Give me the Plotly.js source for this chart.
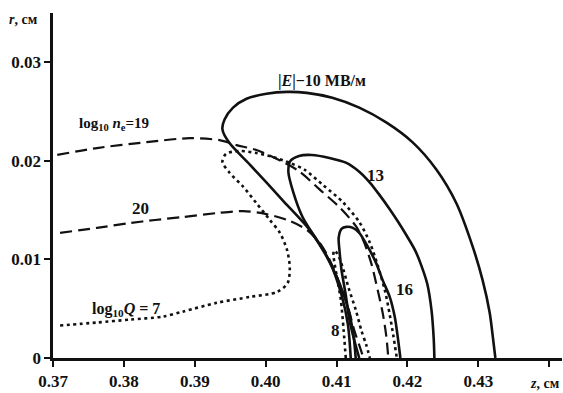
<!DOCTYPE html>
<html>
<head>
<meta charset="utf-8">
<script src="https://cdn.plot.ly/plotly-3.0.1.min.js"></script>
<style>html,body{margin:0;padding:0;background:#fff;}#chart{width:563px;height:393px;}</style>
</head>
<body>
<div id="chart"></div>
<script>
// |E| contours (MV/m): z and r in cm
const e10Z = [0.4120, 0.4116, 0.4107, 0.4090, 0.4062, 0.4024, 0.3978, 0.3949, 0.3939, 0.3942, 0.3954, 0.3973, 0.4001, 0.4030, 0.4058, 0.4094, 0.4132, 0.4170, 0.4207, 0.4241, 0.4269, 0.4292, 0.4306, 0.4316, 0.4321, 0.4324];
const e10R = [0, 0.0034, 0.0064, 0.0098, 0.0130, 0.0160, 0.0196, 0.0218, 0.0232, 0.0242, 0.0254, 0.0263, 0.0268, 0.0270, 0.0269, 0.0264, 0.0254, 0.0239, 0.0219, 0.0191, 0.0157, 0.0113, 0.0079, 0.0046, 0.0018, 0];
const e13Z = [0.4127, 0.4123, 0.4114, 0.4101, 0.4086, 0.4069, 0.4052, 0.4039, 0.4032, 0.4035, 0.4047, 0.4065, 0.4090, 0.4114, 0.4132, 0.4147, 0.4161, 0.4174, 0.4187, 0.4199, 0.4211, 0.4220, 0.4228, 0.4234, 0.4237, 0.4238];
const e13R = [0, 0.0028, 0.0056, 0.0081, 0.0103, 0.0123, 0.0143, 0.0168, 0.0189, 0.0200, 0.0205, 0.0206, 0.0203, 0.0198, 0.0189, 0.0178, 0.0165, 0.0152, 0.0138, 0.0124, 0.0109, 0.0093, 0.0075, 0.0048, 0.0020, 0];
const e16Z = [0.4132, 0.4125, 0.4118, 0.4113, 0.4107, 0.4104, 0.4103, 0.4107, 0.4114, 0.4123, 0.4132, 0.4144, 0.4156, 0.4165, 0.4175, 0.4182, 0.4186, 0.4190];
const e16R = [0, 0.0018, 0.0039, 0.0064, 0.0089, 0.0110, 0.0122, 0.0131, 0.0133, 0.0132, 0.0127, 0.0113, 0.0096, 0.0079, 0.0062, 0.0042, 0.0023, 0];
// log10 ne contours
const ne19Z = [0.3706, 0.3762, 0.3832, 0.3893, 0.3935, 0.3959, 0.3987, 0.4024, 0.4048, 0.4076, 0.4104, 0.4128, 0.4139, 0.4149, 0.4158, 0.4165, 0.4170, 0.4173];
const ne19R = [0.0206, 0.0213, 0.0219, 0.0223, 0.0221, 0.0216, 0.0211, 0.0199, 0.0189, 0.0171, 0.0153, 0.0133, 0.0117, 0.0096, 0.0069, 0.0046, 0.0023, 0];
const ne20Z = [0.3710, 0.3762, 0.3809, 0.3844, 0.3883, 0.3931, 0.3968, 0.4001, 0.4034, 0.4058, 0.4076, 0.4090, 0.4104, 0.4116, 0.4125, 0.4132, 0.4138];
const ne20R = [0.0127, 0.0132, 0.0137, 0.0140, 0.0143, 0.0147, 0.0149, 0.0146, 0.0139, 0.0130, 0.0117, 0.0100, 0.0076, 0.0052, 0.0028, 0.0013, 0];
// log10 Q contours
const q7Z = [0.3710, 0.3762, 0.3809, 0.3855, 0.3883, 0.3931, 0.3978, 0.4016, 0.4031, 0.4034, 0.4030, 0.4020, 0.4006, 0.3987, 0.3968, 0.3949, 0.3939, 0.3944, 0.3963, 0.3987, 0.4010, 0.4034, 0.4055, 0.4080, 0.4109, 0.4132, 0.4147, 0.4158, 0.4168, 0.4175, 0.4180, 0.4185];
const q7R = [0.0033, 0.0036, 0.0039, 0.0042, 0.0047, 0.0056, 0.0062, 0.0067, 0.0076, 0.0092, 0.0110, 0.0127, 0.0140, 0.0157, 0.0174, 0.0188, 0.0199, 0.0207, 0.0210, 0.0208, 0.0204, 0.0198, 0.0191, 0.0176, 0.0158, 0.0138, 0.0117, 0.0094, 0.0069, 0.0044, 0.0023, 0];
const q8Z = [0.4113, 0.4110, 0.4106, 0.4100, 0.4096, 0.4096, 0.4101, 0.4109, 0.4117, 0.4127, 0.4135, 0.4142, 0.4147];
const q8R = [0, 0.0028, 0.0059, 0.0084, 0.0102, 0.0109, 0.0106, 0.0091, 0.0071, 0.0049, 0.0028, 0.0013, 0];

const xTickVals = [0.37, 0.38, 0.39, 0.40, 0.41, 0.42, 0.43, 0.44];
const xTickText = ['0.37', '0.38', '0.39', '0.40', '0.41', '0.42', '0.43', ''];
const yTickVals = [0, 0.01, 0.02, 0.03];
const yTickText = ['0', '0.01', '0.02', '0.03'];

const INK = '#111';
const SOLID = {color: INK, width: 2.6, shape: 'spline', smoothing: 0.8};
const DASH = {color: INK, width: 2.2, dash: '12px,6px', shape: 'spline', smoothing: 0.8};
const DOT = {color: INK, width: 2.6, dash: '3px,3.5px', shape: 'spline', smoothing: 0.8};

function tr(x, y, line) { return {x: x, y: y, mode: 'lines', line: line, hoverinfo: 'skip', showlegend: false}; }

const data = [
  tr(q7Z, q7R, DOT), tr(q8Z, q8R, DOT),
  tr(ne19Z, ne19R, DASH), tr(ne20Z, ne20R, DASH),
  tr(e10Z, e10R, SOLID), tr(e13Z, e13R, SOLID), tr(e16Z, e16R, SOLID)
];

const F = 'Liberation Serif, Times New Roman, serif';
const lab = (x, y, text, size) => ({x: x, y: y, xref: 'x', yref: 'y', text: text, showarrow: false,
  font: {family: F, size: size || 16, color: INK, weight: 700}});

const layout = {
  width: 563, height: 393,
  margin: {l: 53, r: 1, t: 13, b: 35},
  paper_bgcolor: '#fff', plot_bgcolor: '#fff',
  xaxis: {range: [0.37, 0.4418], tickvals: xTickVals, ticktext: xTickText, ticks: 'outside', ticklen: 6, tickwidth: 2,
    tickcolor: INK, showline: true, linecolor: INK, linewidth: 2.6, showgrid: false, zeroline: false,
    tickfont: {family: F, size: 17, color: INK, weight: 700}},
  yaxis: {range: [0, 0.035], tickvals: yTickVals, ticktext: yTickText, ticks: 'outside', ticklen: 6, tickwidth: 2,
    tickcolor: INK, showline: true, linecolor: INK, linewidth: 2.6, showgrid: false, zeroline: false,
    tickfont: {family: F, size: 17, color: INK, weight: 700}},
  annotations: [
    lab(0.4080, 0.0281, '|<i>E</i>|−10 МВ/м', 16),
    lab(0.3786, 0.0237, 'log<sub>10</sub> <i>n</i><sub>e</sub>=19', 15),
    lab(0.3823, 0.0152, '20', 17),
    lab(0.3803, 0.0049, 'log<sub>10</sub><i>Q</i> = 7', 16),
    lab(0.4155, 0.0185, '13', 17),
    lab(0.4196, 0.0069, '16', 17),
    lab(0.4098, 0.0028, '8', 17),
    {xref: 'paper', yref: 'paper', x: -0.09, y: 0.98, xanchor: 'left', yanchor: 'middle', text: '<i>r</i>, см', showarrow: false,
      font: {family: F, size: 14, color: INK, weight: 700}},
    {xref: 'paper', yref: 'paper', x: 1.0, y: -0.045, xanchor: 'right', yanchor: 'top', text: '<i>z</i>, см', showarrow: false,
      font: {family: F, size: 14, color: INK, weight: 700}}
  ]
};

Plotly.newPlot('chart', data, layout, {staticPlot: true, displayModeBar: false});
</script>
</body>
</html>
